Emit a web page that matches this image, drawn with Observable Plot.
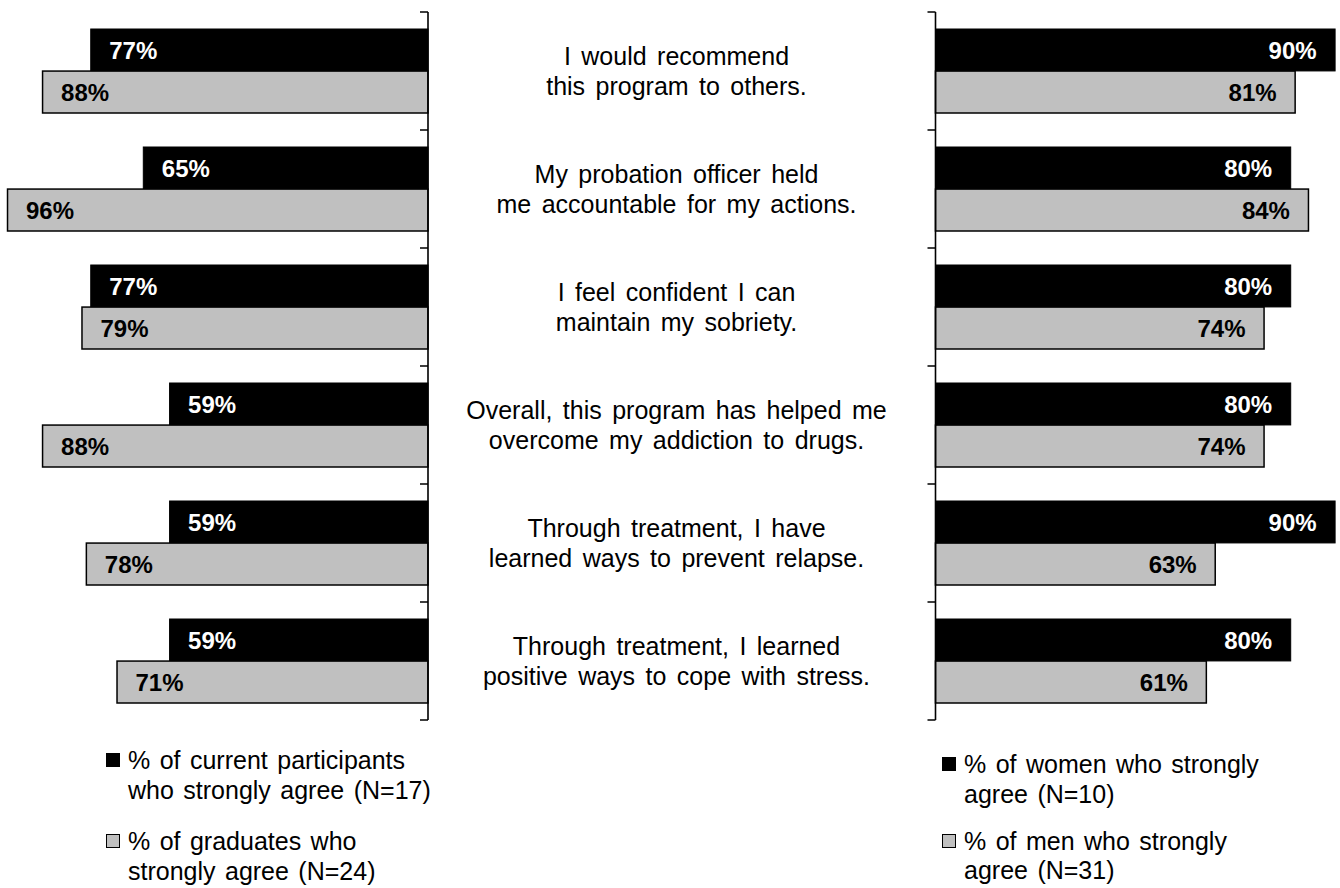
<!DOCTYPE html>
<html>
<head>
<meta charset="utf-8">
<script src="https://cdn.jsdelivr.net/npm/d3@7"></script>
<script src="https://cdn.jsdelivr.net/npm/@observablehq/plot@0.6"></script>
<style>
  html, body { margin: 0; padding: 0; background: #fff; }
  #chart { position: relative; width: 1340px; height: 888px; font-family: Arial, "Liberation Sans", sans-serif; color: #000; }
  #chart > .panel { position: absolute; top: 0; }
  .legend-item { position: absolute; font-size: 25px; line-height: 29.5px; white-space: pre; word-spacing: 2.5px; }
  .swatch { position: absolute; width: 14px; height: 14px; box-sizing: border-box; }
</style>
</head>
<body>
<div id="chart"></div>
<script>
// Survey statements (one row per statement, top to bottom)
const questions = [
  "I would recommend\nthis program to others.",
  "My probation officer held\nme accountable for my actions.",
  "I feel confident I can\nmaintain my sobriety.",
  "Overall, this program has helped me\novercome my addiction to drugs.",
  "Through treatment, I have\nlearned ways to prevent relapse.",
  "Through treatment, I learned\npositive ways to cope with stress."
];

// Left panel: program status
const currentParticipants = [77, 65, 77, 59, 59, 59];
const graduates = [88, 96, 79, 88, 78, 71];

// Right panel: gender
const women = [90, 80, 80, 80, 90, 80];
const men = [81, 84, 74, 74, 63, 61];

// Legend texts
const leftLegend = [
  "% of current participants\nwho strongly agree (N=17)",
  "% of graduates who\nstrongly agree (N=24)"
];
const rightLegend = [
  "% of women who strongly\nagree (N=10)",
  "% of men who strongly\nagree (N=31)"
];

const FONT = "Arial, 'Liberation Sans', sans-serif";
const DARK = "#000000";
const LIGHT = "#c0c0c0";

// Shared vertical band layout
const yRange = [10, 721];
const padInner = 0.29;
const padOuter = padInner / 2;
const step = (yRange[1] - yRange[0]) / (questions.length - padInner + 2 * padOuter);
const bandwidth = step * (1 - padInner);
const half = bandwidth / 2;
const yScale = {domain: questions, range: yRange, paddingInner: padInner, paddingOuter: padOuter, align: 0.5, axis: null};

const rows = (values) => questions.map((q, i) => ({question: q, value: values[i]}));

// Axis line at zero with tick marks on the category boundaries
function boundaryAxis(tickSize) {
  return (index, {x, y}) => {
    const domain = y.domain();
    const gap = y.step() - y.bandwidth();
    const edges = domain.map((q) => y(q) - gap / 2);
    edges.push(y(domain[domain.length - 1]) + y.bandwidth() + gap / 2);
    const x0 = x(0);
    const p = d3.path();
    p.moveTo(x0, edges[0]);
    p.lineTo(x0, edges[edges.length - 1]);
    for (const e of edges) { p.moveTo(x0 - tickSize, e); p.lineTo(x0, e); }
    return d3.create("svg:path")
      .attr("d", p.toString())
      .attr("fill", "none")
      .attr("stroke", "#000")
      .attr("stroke-width", 1.6)
      .node();
  };
}

function barPanel({dark, light, xRange, width, anchor, dx}) {
  return Plot.plot({
    width,
    height: 731,
    margin: 0,
    style: {fontFamily: FONT, background: "transparent", overflow: "visible"},
    x: {domain: [0, 100], range: xRange, axis: null},
    y: yScale,
    marks: [
      Plot.barX(rows(dark), {x: "value", y: "question", fill: DARK, stroke: DARK, strokeWidth: 1, insetBottom: half}),
      Plot.barX(rows(light), {x: "value", y: "question", fill: LIGHT, stroke: "#000", strokeWidth: 1.5, insetTop: half}),
      Plot.text(rows(dark), {
        x: "value", y: "question", text: (d) => `${d.value}%`,
        fill: "#fff", fontWeight: "bold", fontSize: 24, textAnchor: anchor, dx, dy: -half / 2 + 1
      }),
      Plot.text(rows(light), {
        x: "value", y: "question", text: (d) => `${d.value}%`,
        fill: "#000", fontWeight: "bold", fontSize: 24, textAnchor: anchor, dx, dy: half / 2 + 1
      }),
      boundaryAxis(8)
    ]
  });
}

const chart = document.getElementById("chart");

// Left panel: bars grow leftward from the axis
const left = barPanel({dark: currentParticipants, light: graduates, xRange: [428, -10], width: 440, anchor: "start", dx: 18});
left.classList.add("panel");
left.style.left = "0px";
chart.appendChild(left);

// Centre column: statement labels
const center = Plot.plot({
  width: 500,
  height: 731,
  margin: 0,
  marginRight: 12,
  style: {fontFamily: FONT, background: "transparent", overflow: "visible"},
  y: yScale,
  marks: [
    Plot.text(questions, {y: (d) => d, text: (d) => d, frameAnchor: "middle", fontSize: 25, lineHeight: 1.21, dy: -1, fill: "#000"})
  ]
});
center.classList.add("panel");
center.style.left = "432px";
center.style.wordSpacing = "3.5px";
chart.appendChild(center);

// Right panel: bars grow rightward from the axis
const right = barPanel({dark: women, light: men, xRange: [35.5, 479.5], width: 440, anchor: "end", dx: -19});
right.classList.add("panel");
right.style.left = "900px";
chart.appendChild(right);

// Legends below each panel
function legend(texts, swatchLeft, textLeft, swatchTops, textTops) {
  texts.forEach((t, i) => {
    const sw = document.createElement("div");
    sw.className = "swatch";
    sw.style.left = swatchLeft + "px";
    sw.style.top = swatchTops[i] + "px";
    sw.style.background = i === 0 ? DARK : LIGHT;
    sw.style.border = i === 0 ? "none" : "1.5px solid #000";
    chart.appendChild(sw);
    const tx = document.createElement("div");
    tx.className = "legend-item";
    tx.style.left = textLeft + "px";
    tx.style.top = textTops[i] + "px";
    tx.textContent = t;
    chart.appendChild(tx);
  });
}
legend(leftLegend, 106, 128, [753, 834], [746, 827]);
legend(rightLegend, 942, 964, [757, 834], [750, 826.5]);
</script>
</body>
</html>
